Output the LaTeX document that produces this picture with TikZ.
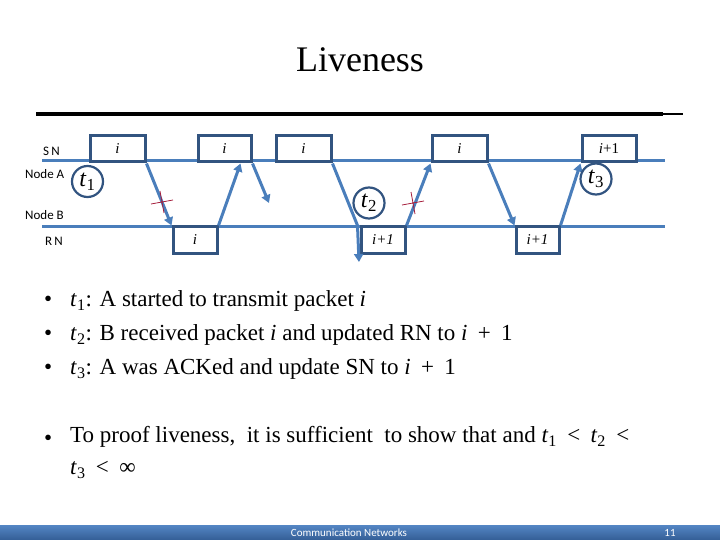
\documentclass[tikz,border=0pt]{standalone}
\usepackage{amsmath,amssymb}
\usepackage{fontspec}
\setmainfont{Liberation Serif}
\newfontfamily\calibri{Carlito}
\usepackage{tikz}
\usetikzlibrary{arrows.meta, positioning, calc}
\definecolor{lineblue}{RGB}{74,126,187}
\definecolor{boxblue}{RGB}{50,84,128}
\definecolor{crossred}{RGB}{165,30,60}
\definecolor{bartop}{RGB}{84,134,196}
\definecolor{barbot}{RGB}{52,94,150}
\newcommand{\tev}[1]{\textit{t}\textsubscript{#1}}
\newcommand{\tsym}[1]{\hspace{0.45em}#1\hspace{0.45em}}
\tikzset{
  % Timing diagram styles
  timeline/.style={draw=lineblue, line width=3pt},
  pkt/.style={rectangle, draw=boxblue, line width=3pt, minimum height=26pt, inner sep=0pt, fill=white, font=\fontsize{15}{15}\selectfont},
  msg/.style={draw=lineblue, line width=3pt, -{Triangle[length=8pt,width=9pt]}},
  tcirc/.style={circle, draw=boxblue, line width=2.2pt, minimum size=31pt, inner sep=0pt, font=\fontsize{24}{24}\selectfont},
  xmark/.style={draw=crossred, line width=0.8pt},
  lbl/.style={font=\calibri\fontsize{13}{13}\selectfont, anchor=west, inner sep=0pt},
  % Slide text styles
  bullet/.style={anchor=west, inner sep=0pt, font=\fontsize{23}{32}\selectfont, align=left},
  foot/.style={text=white, font=\calibri\fontsize{11}{11}\selectfont, inner sep=0pt},
}
\begin{document}
\begin{tikzpicture}[x=1pt, y=-1pt]
    \useasboundingbox (0,0) rectangle (720,540);

    % Title
    \node[font=\fontsize{36}{36}\selectfont] (title) at (360,60) {Liveness};
    \coordinate (ruleL) at (36,114);
    \coordinate (ruleM) at (663,114);
    \coordinate (ruleR) at (683,114);
    \draw[line width=4pt] (ruleL) -- (ruleM);
    \draw[line width=1.5pt] (ruleM) -- (ruleR);

    % Timelines
    \coordinate (snL) at (42,161);
    \coordinate (snR) at (665,161);
    \coordinate (rnL) at (42,227);
    \coordinate (rnR) at (665,227);
    \draw[timeline] (snL) -- (snR);
    \draw[timeline] (rnL) -- (rnR);

    \node[lbl] (snlbl) at (43,151) {S\,N};
    \node[lbl] (nodea) at (25,174) {Node A};
    \node[lbl] (nodeb) at (25,215) {Node B};
    \node[lbl] (rnlbl) at (45,241) {R\,N};

    % Packets at A
    \node[pkt, minimum width=55pt] (sn1) at (117.5,149) {\textit{i}};
    \node[pkt, minimum width=53pt] (sn2) at (224.5,149) {\textit{i}};
    \node[pkt, minimum width=55pt] (sn3) at (303.5,149) {\textit{i}};
    \node[pkt, minimum width=55pt] (sn4) at (459.5,149) {\textit{i}};
    \node[pkt, minimum width=54pt] (sn5) at (609,149) {\textit{i}+1};

    % Packets at B
    \node[pkt, minimum width=44pt] (rn1) at (195,240) {\textit{i}};
    \node[pkt, minimum width=44pt] (rn2) at (383,240) {\textit{i+1}};
    \node[pkt, minimum width=43pt] (rn3) at (537.5,240) {\textit{i+1}};

    % Free ends
    \coordinate (end3) at (269,203);
    \coordinate (end4) at (359,262);

    % Messages
    \draw[msg] (sn1.south east) -- (rn1.north west);
    \draw[msg] (rn1.north east) -- ([xshift=-12pt]sn2.south east);
    \draw[msg] (sn2.south east) -- (end3);
    \draw[msg] (sn3.south east) -- ([xshift=-2pt]rn2.north west) -- (end4);
    \draw[msg] (rn2.north east) -- (sn4.south west);
    \draw[msg] (sn4.south east) -- (rn3.north west);
    \draw[msg] (rn3.north east) -- (sn5.south west);

    % Losses
    \coordinate (loss1) at (162,202);
    \coordinate (loss2) at (413,203);
    \foreach \c in {loss1, loss2}
      \draw[xmark] (\c) ++(-11,2) -- ++(22,-4) (\c) ++(-2,-11) -- ++(4,22);

    % Events
    \node[tcirc] (t1) at (87.5,181.5) {\tev{1}};
    \node[tcirc] (t2) at (369,203) {\tev{2}};
    \node[tcirc] (t3) at (596,179) {\tev{3}};

    % Bullets
    \node[bullet] (b1) at (44,301) {\textbullet};
    \node[bullet] (b2) at (44,335) {\textbullet};
    \node[bullet] (b3) at (44,369) {\textbullet};
    \node[bullet] (b4) at (44,440) {\textbullet};
    \node[bullet] (l1) at (70,301) {\tev{1}: A started to transmit packet \textit{i}};
    \node[bullet] (l2) at (70,335) {\tev{2}: B received packet \textit{i} and updated RN to \textit{i}\tsym{+}1};
    \node[bullet] (l3) at (70,369) {\tev{3}: A was ACKed and update SN to \textit{i}\tsym{+}1};
    \node[bullet, anchor=north west] (l4) at (70,426) {To proof liveness,\ \ it is sufficient\ \ to show that and \tev{1}\tsym{<}\tev{2}\tsym{<}\\\tev{3}\tsym{<}∞};

    % Footer
    \shade[top color=bartop, bottom color=barbot] (0,525) rectangle (720,540);
    \node[foot] (course) at (349,533) {Communication Networks};
    \node[foot] (page) at (670,533) {11};
\end{tikzpicture}
\end{document}
